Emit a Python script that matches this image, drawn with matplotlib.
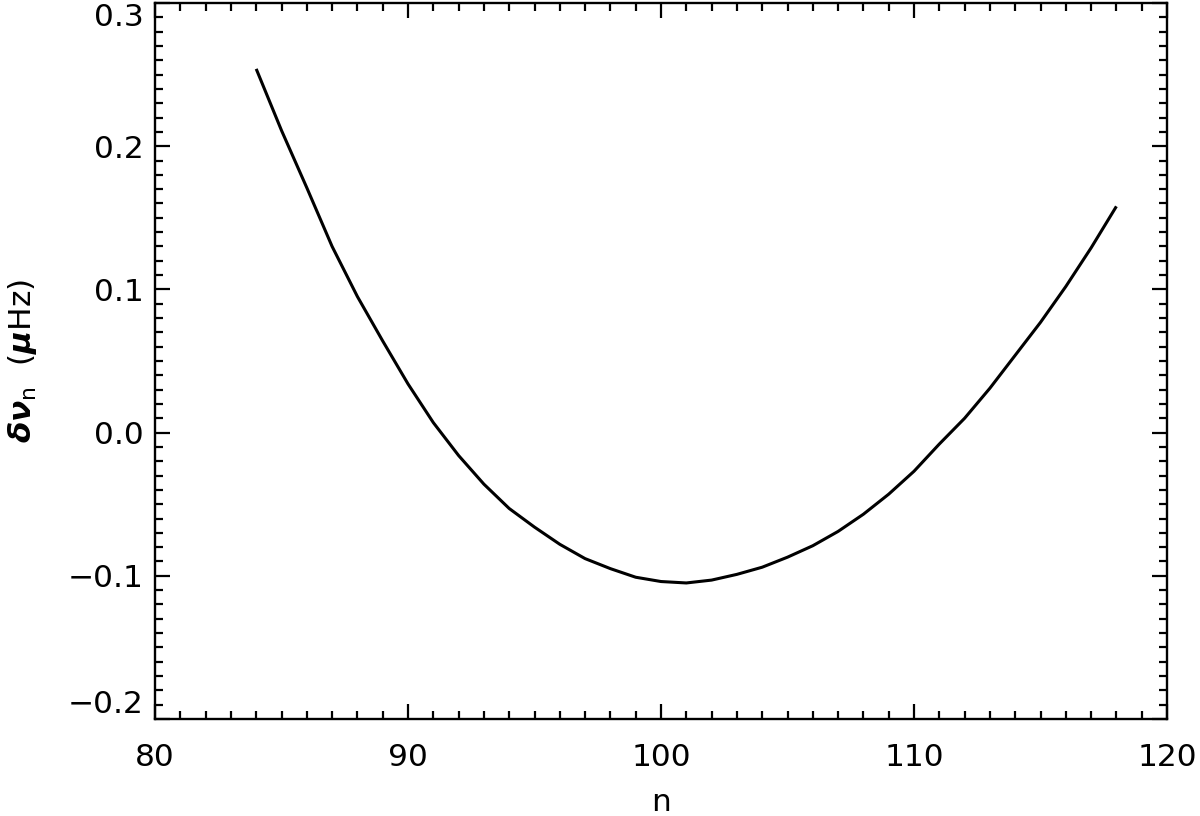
import matplotlib
matplotlib.use("Agg")
import matplotlib.pyplot as plt
from matplotlib.ticker import MultipleLocator

plt.rcParams['font.family'] = ['DejaVu Sans']
plt.rcParams['mathtext.fontset'] = 'custom'
plt.rcParams['mathtext.rm'] = 'DejaVu Sans'
plt.rcParams['mathtext.it'] = 'DejaVu Sans:italic:bold'
plt.rcParams['mathtext.bf'] = 'DejaVu Sans:bold'

# data
n_values = [84, 85, 86, 87, 88, 89, 90, 91, 92, 93, 94, 95, 96, 97, 98, 99, 100,
            101, 102, 103, 104, 105, 106, 107, 108, 109, 110, 111, 112, 113, 114,
            115, 116, 117, 118]
dnu_values = [0.254, 0.211, 0.171, 0.130, 0.095, 0.064, 0.034, 0.007, -0.016,
              -0.036, -0.053, -0.066, -0.078, -0.088, -0.095, -0.101, -0.104,
              -0.105, -0.103, -0.099, -0.094, -0.087, -0.079, -0.069, -0.057,
              -0.043, -0.027, -0.008, 0.010, 0.031, 0.054, 0.077, 0.102, 0.129,
              0.158]
x_ticks = [80, 90, 100, 110, 120]
y_ticks = [-0.2, -0.1, 0.0, 0.1, 0.2, 0.3]
y_tick_labels = ['\u22120.2', '\u22120.1', '0.0', '0.1', '0.2', '0.3']

fig = plt.figure(figsize=(12, 8.16), dpi=100)
ax = fig.add_axes([155/1200, 1 - 719/816, (1167 - 155)/1200, (719 - 3)/816])

ax.plot(n_values, dnu_values, color='black', lw=2.2, solid_capstyle='butt',
        solid_joinstyle='round')

ax.set_xlim(80, 120)
ax.set_ylim(-0.2, 0.3)
ax.set_xticks(x_ticks)
ax.set_xticklabels([str(t) for t in x_ticks])
ax.set_yticks(y_ticks)
ax.set_yticklabels(y_tick_labels)
ax.xaxis.set_minor_locator(MultipleLocator(1))
ax.yaxis.set_minor_locator(MultipleLocator(0.01))

for s in ax.spines.values():
    s.set_linewidth(1.7)
ax.tick_params(which='both', direction='in', top=True, right=True, width=1.6,
               labelsize=22.5)
ax.tick_params(which='major', length=11)
ax.tick_params(which='minor', length=5.5)
ax.tick_params(axis='x', which='major', pad=17)
ax.tick_params(axis='y', which='major', pad=8)

ylabels = ax.get_yticklabels()
ylabels[-1].set_verticalalignment('top')
ylabels[0].set_verticalalignment('bottom')

ax.set_xlabel('n', fontsize=22.5, labelpad=12)
fig.text(0.019, (1 - 361/816), r'$\delta\nu_{\rm n}$  ($\mathit{\mu}$Hz)',
         rotation=90, ha='center', va='center', fontsize=22.5)

fig.savefig('out.png', dpi=100)
